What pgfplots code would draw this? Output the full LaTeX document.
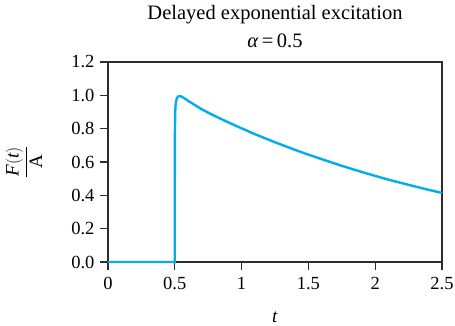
\documentclass[border=0pt]{standalone}
\usepackage{amsmath}
\usepackage{fontspec}
\setmainfont{Liberation Serif}
\usepackage{pgfplots}
\pgfplotsset{compat=1.18}
\definecolor{curve}{RGB}{0,174,239}
\definecolor{axc}{RGB}{45,45,45}
\begin{document}
\begin{tikzpicture}
\useasboundingbox (-108pt,-63pt) rectangle (347pt,262pt);
\begin{axis}[
  at={(0pt,0pt)}, anchor=south west,
  scale only axis, width=334pt, height=200pt,
  xmin=0, xmax=2.5, ymin=0, ymax=1.2,
  xtick={0,0.5,1,1.5,2,2.5},
  ytick={0,0.2,0.4,0.6,0.8,1.0,1.2},
  xtick pos=bottom, ytick pos=left,
  tick align=outside, major tick length=8pt,
  axis line style={axc, line width=1.1pt},
  tick style={axc, line width=1.1pt},
  /pgf/number format/assume math mode=true,
  yticklabel style={/pgf/number format/fixed, /pgf/number format/fixed zerofill, /pgf/number format/precision=1, xshift=-2pt},
  xticklabel style={/pgf/number format/fixed, yshift=-4pt},
  tick label style={font=\fontsize{18.5}{18.5}\selectfont, text=black},
  clip=false,
]
\addplot[curve, line width=2.4pt, line join=round] coordinates {
  (0,0) (0.5,0) (0.5,0.5) (0.501,0.78) (0.503,0.90) (0.506,0.945) (0.51,0.966)
  (0.515,0.980) (0.52,0.988) (0.527,0.994) (0.535,0.996) (0.545,0.994)
  (0.56,0.988) (0.58,0.978) (0.6,0.967) (0.65,0.942) (0.7,0.917)
  (0.75,0.896) (0.8,0.876) (0.9,0.838) (1.0,0.802) (1.1,0.767)
  (1.25,0.7185) (1.4,0.673) (1.5,0.644) (1.6,0.617) (1.75,0.577)
  (1.9,0.540) (2.0,0.5165) (2.1,0.494) (2.25,0.463) (2.4,0.433) (2.5,0.4145)
};
\node at ([yshift=47pt]rel axis cs:0.5,1) {\fontsize{20.5}{20.5}\selectfont Delayed exponential excitation};
\node at ([yshift=21pt]rel axis cs:0.5,1) {\fontsize{20.5}{20.5}\selectfont \textit{α}\,=\,0.5};
\node[inner sep=0pt] at ([yshift=-55pt]rel axis cs:0.5,0) {\fontsize{19}{19}\selectfont\textit{t}};
\node[rotate=90, inner sep=0pt] at ([xshift=-84pt]rel axis cs:0,0.5) {\fontsize{19}{19}\selectfont$\dfrac{\textit{F}(\textit{t})}{\text{A}}$};
\end{axis}
\end{tikzpicture}
\end{document}
